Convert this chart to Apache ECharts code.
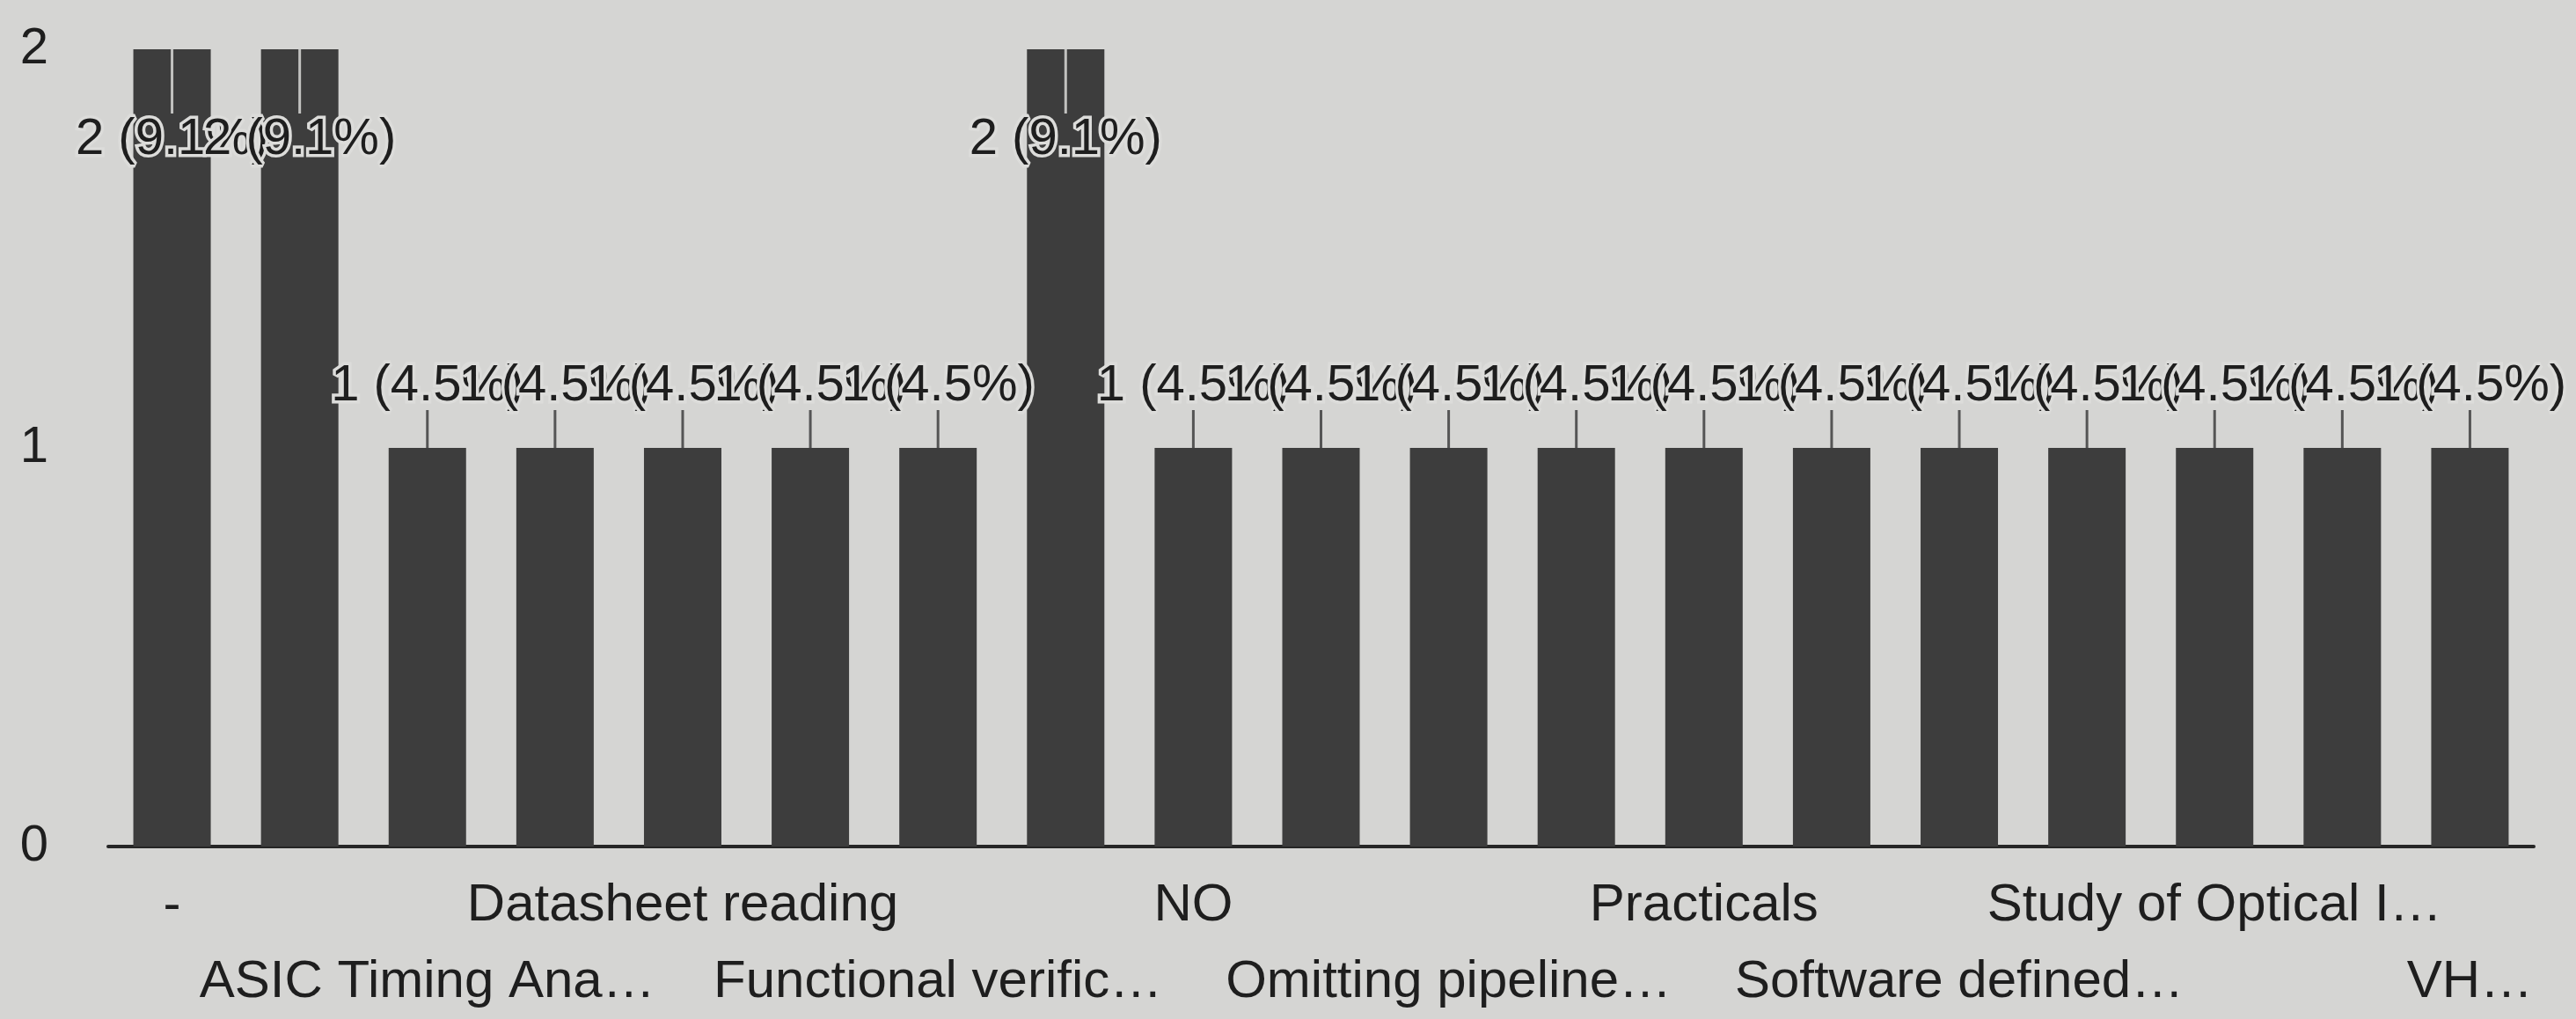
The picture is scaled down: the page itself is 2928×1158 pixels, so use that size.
<!DOCTYPE html>
<html>
<head>
<meta charset="utf-8">
<style>
  html, body { margin: 0; padding: 0; background: #d5d5d3; }
  #chart { width: 2928px; height: 1158px; }
</style>
<script src="https://cdn.jsdelivr.net/npm/echarts@6/dist/echarts.min.js"></script>
</head>
<body>
<div id="chart"></div>
<script>
// categories (every other one is not printed on the axis)
var categories = [
  '-', '(not shown 1)', 'ASIC Timing Ana…', '(not shown 2)', 'Datasheet reading',
  '(not shown 3)', 'Functional verific…', '(not shown 4)', 'NO', '(not shown 5)',
  'Omitting pipeline…', '(not shown 6)', 'Practicals', '(not shown 7)', 'Software defined…',
  '(not shown 8)', 'Study of Optical I…', '(not shown 9)', 'VH…'
];
var counts = [2, 2, 1, 1, 1, 1, 1, 2, 1, 1, 1, 1, 1, 1, 1, 1, 1, 1, 1];
var yTicks = [0, 1, 2];

var total = counts.reduce(function (a, b) { return a + b; }, 0);
var FONT = '"Liberation Sans", Arial, sans-serif';
var textColor = '#1e1e1e';

var chart = echarts.init(document.getElementById('chart'));

// two label rows: row 0 = index 0,4,8..., row 1 = index 2,6,10...
function rowAxis(row, offset, showLine) {
  return {
    type: 'category',
    data: categories,
    position: 'bottom',
    offset: offset,
    axisTick: { show: false },
    axisLine: { show: showLine, lineStyle: { color: '#262626', width: 4 } },
    axisLabel: {
      interval: 1,
      showMinLabel: true,
      showMaxLabel: true,
      hideOverlap: false,
      margin: 24,
      fontSize: 60,
      lineHeight: 87,
      fontFamily: FONT,
      color: textColor,
      formatter: function (value, index) {
        return (index % 4) / 2 === row ? value : '';
      }
    }
  };
}

var option = {
  backgroundColor: '#d5d5d3',
  animation: false,
  grid: { left: 123, right: 48, top: 56, bottom: 196, outerBoundsMode: 'none' },
  xAxis: [rowAxis(0, 0, true), rowAxis(1, 87, false)],
  yAxis: {
    type: 'value',
    min: yTicks[0],
    max: yTicks[yTicks.length - 1],
    interval: 1,
    axisLine: { show: false },
    axisTick: { show: false },
    splitLine: { show: false },
    axisLabel: { fontSize: 58, fontFamily: FONT, color: textColor, margin: 68 }
  },
  series: [
    {
      type: 'bar',
      z: 2,
      data: counts,
      barWidth: 88,
      itemStyle: { color: '#3d3d3d' }
    },
    {
      // value labels with leader lines
      type: 'custom',
      z: 5,
      clip: false,
      data: counts.map(function (v, i) { return [i, v]; }),
      encode: { x: 0, y: 1 },
      renderItem: function (params, api) {
        var v = api.value(1);
        var pt = api.coord([api.value(0), v]);
        var x = pt[0], y = pt[1];
        var pct = (v / total * 100).toFixed(1) + '%';
        var inside = (y - 98) < params.coordSys.y;
        var cy = inside ? y + 103 : y - 70;
        var y1 = inside ? y : cy + 27;
        var y2 = inside ? cy - 30 : y;
        return {
          type: 'group',
          children: [
            {
              type: 'line',
              shape: { x1: x, y1: y1, x2: x, y2: y2 },
              style: { stroke: inside ? '#c2c2c0' : '#555555', lineWidth: 3 }
            },
            {
              type: 'text',
              x: x,
              y: cy,
              style: {
                text: v + ' (' + pct + ')',
                font: '58px ' + FONT,
                fill: textColor,
                align: 'center',
                verticalAlign: 'middle',
                stroke: '#dcdcda',
                lineWidth: 7
              }
            }
          ]
        };
      }
    }
  ]
};

chart.setOption(option);
</script>
</body>
</html>
